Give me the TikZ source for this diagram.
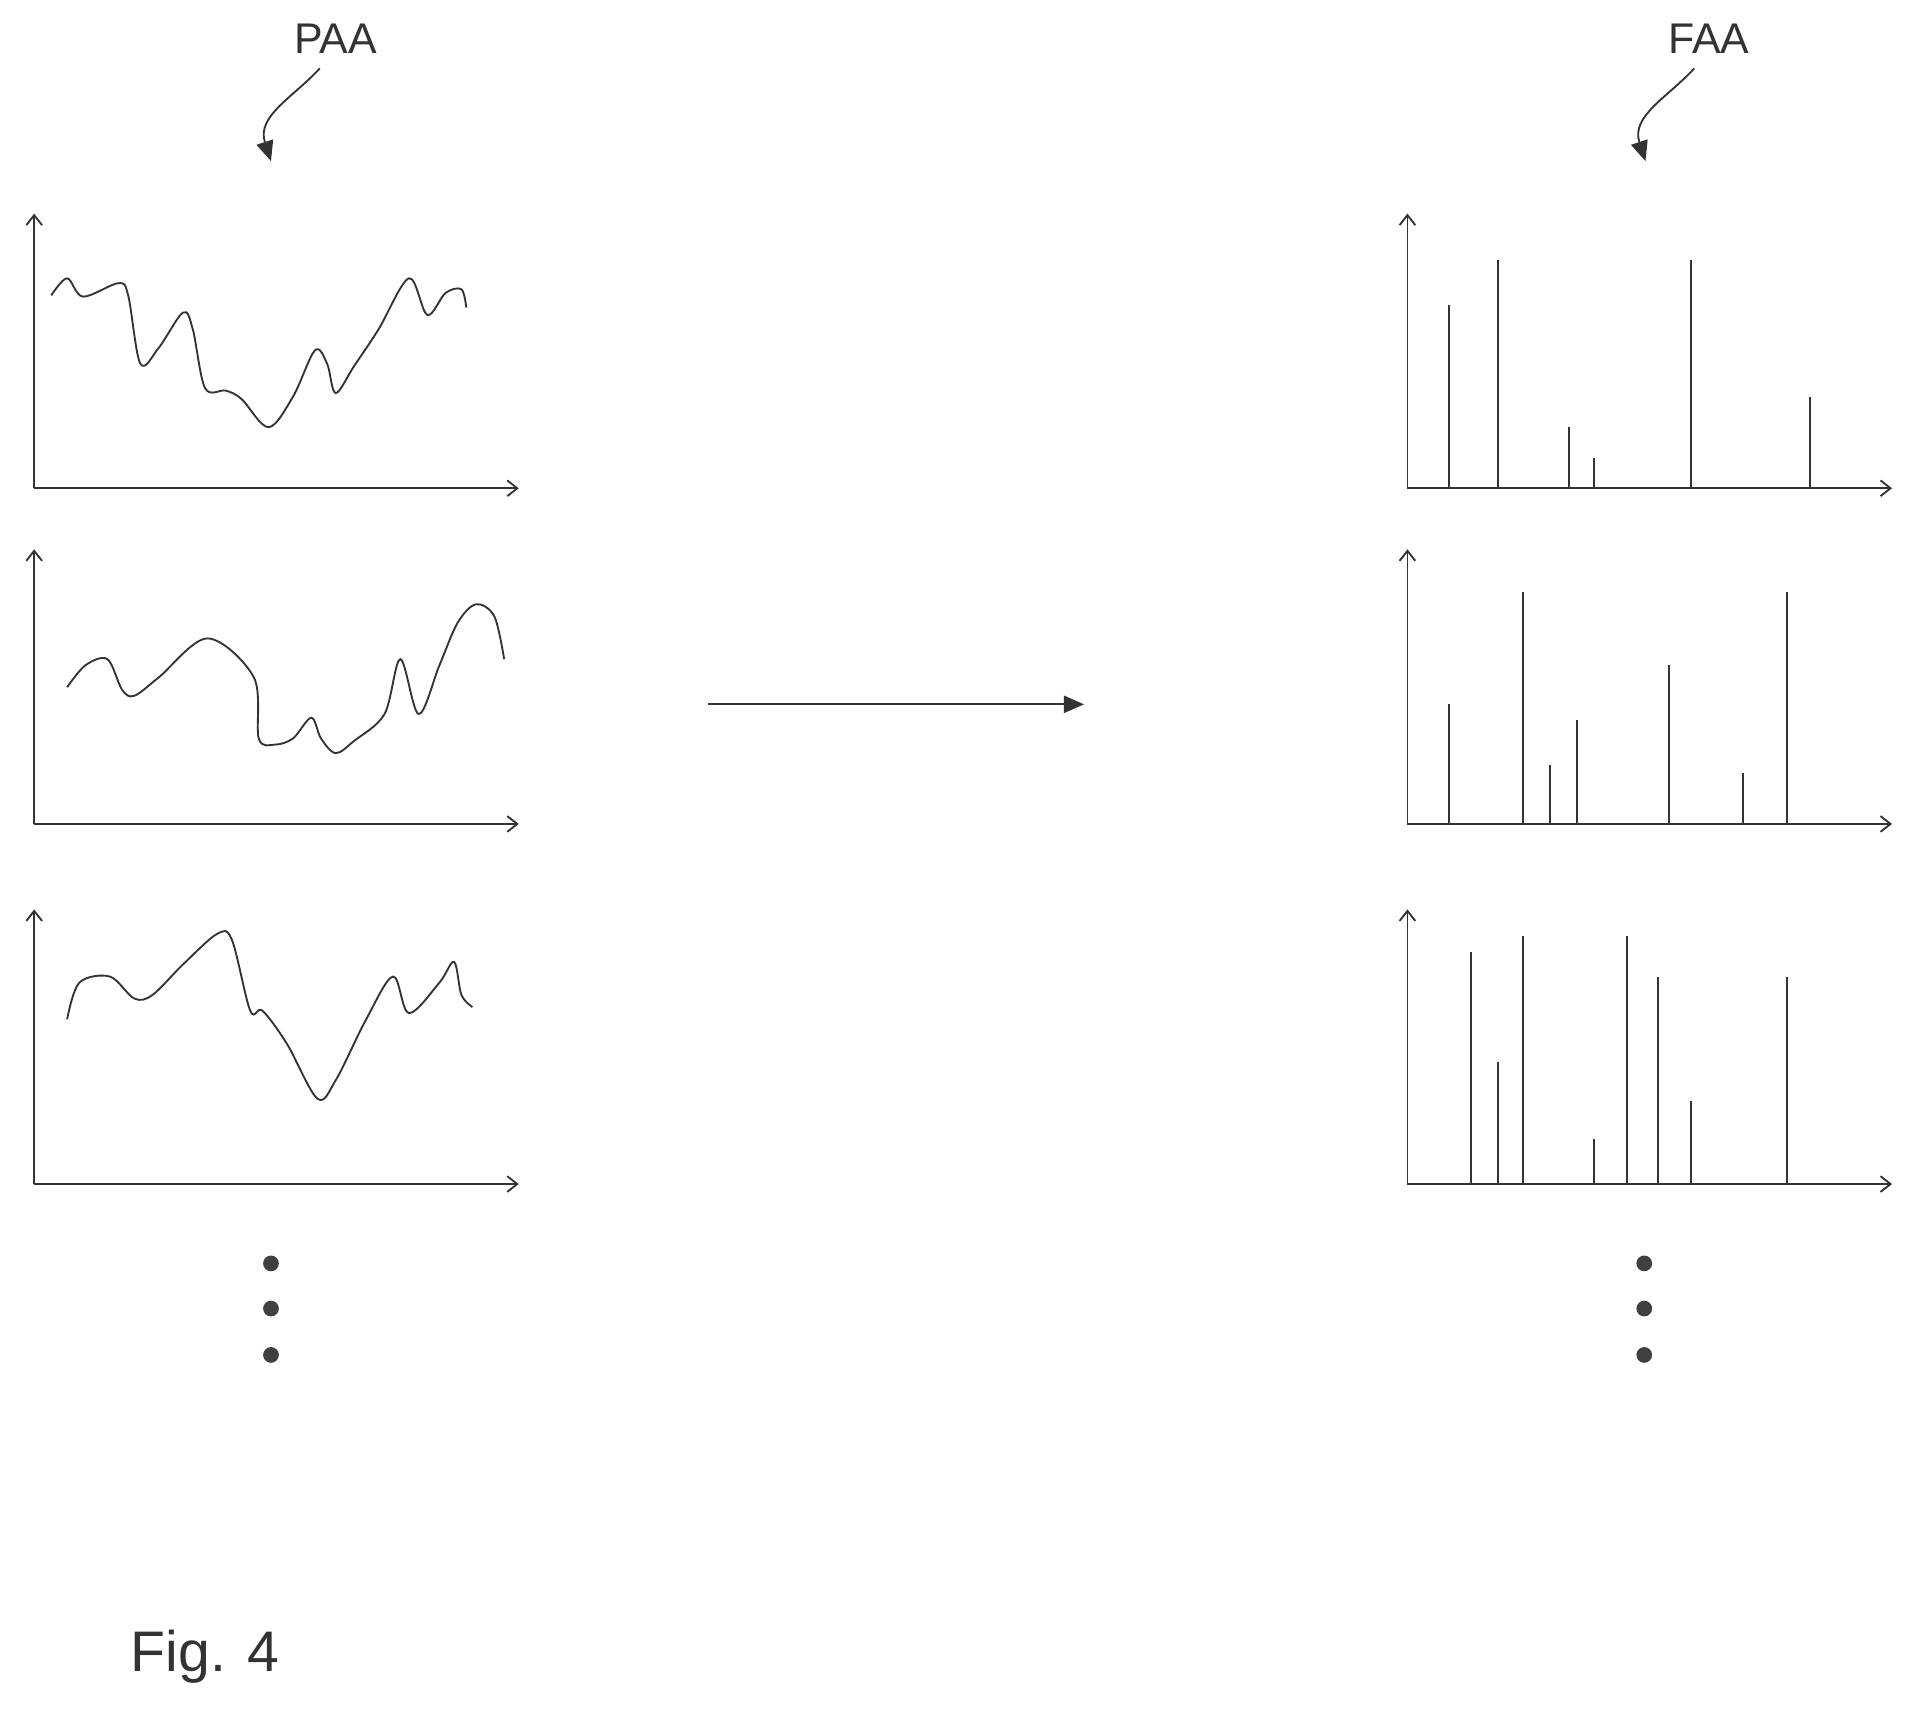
\documentclass[tikz,border=0pt]{standalone}
\usepackage{fontspec}
\setmainfont{Liberation Sans}
\usetikzlibrary{arrows.meta}
\begin{document}
\begin{tikzpicture}[x=0.03cm,y=-0.03cm,
  ln/.style={draw=black!80,line width=1.3pt},
  axis/.style={ln,-{Straight Barb[length=7pt,width=11pt]}},
  bar/.style={ln},
  crv/.style={ln,smooth,tension=0.55},
  lbl/.style={font=\fontsize{30}{36}\selectfont,text=black!80},
  fat/.style={ln,-{Triangle[length=14pt,width=12pt]}},
  dot/.style={circle,fill=black!75,inner sep=0pt,minimum size=11pt}]
\useasboundingbox (0,0) rectangle (1568,1404);
% axes
\foreach \o/\t in {400/175,675/450,970/745}{
  \coordinate (lo) at (28,\o);
  \draw[axis] (lo) -- (28,\t);
  \draw[axis] (lo) -- (425,\o);
  \coordinate (ro) at (1153,\o);
  \draw[axis] (ro) -- (1153,\t);
  \draw[axis] (ro) -- (1550,\o);
}
% curves
\draw[crv] plot coordinates {(42,242)(55,228)(68,243)(97,232)(105,242)(115,298)(130,285)(150,256)(158,270)(168,318)(185,320)(198,327)(220,350)(240,325)(258,287)(268,298)(275,322)(290,300)(310,270)(335,228)(350,258)(365,240)(378,237)(382,252)};
\draw[crv] plot coordinates {(55,563)(70,545)(88,540)(100,565)(110,570)(130,555)(170,523)(208,555)(212,605)(225,610)(240,605)(255,588)(263,605)(275,617)(290,607)(315,585)(328,540)(343,585)(360,545)(375,510)(390,495)(405,505)(413,540)};
\draw[crv] plot coordinates {(55,835)(65,805)(90,800)(110,818)(125,815)(150,790)(178,765)(190,770)(205,828)(215,828)(235,855)(260,900)(275,885)(300,835)(322,800)(335,830)(360,805)(372,788)(378,815)(387,825)};
% bars
\foreach \x/\t in {1187/250,1227/213,1285/350,1306/375,1385/213,1483/325} \draw[bar] (\x,400) -- (\x,\t);
\foreach \x/\t in {1187/577,1248/485,1270/627,1292/590,1367/545,1428/633,1464/485} \draw[bar] (\x,675) -- (\x,\t);
\foreach \x/\t in {1205/780,1227/870,1248/767,1306/933,1333/767,1358/800,1385/902,1464/800} \draw[bar] (\x,970) -- (\x,\t);
% labels
\node[lbl] (paa) at (275,32) {PAA};
\node[lbl] (faa) at (1400,32) {FAA};
\coordinate (pa) at (222,132);
\coordinate (fa) at (1348,132);
\draw[fat] (262,56) .. controls (240,80) and (210,95) .. (pa);
\draw[fat] (1388,56) .. controls (1366,80) and (1336,95) .. (fa);
\coordinate (ma) at (580,577); \coordinate (mb) at (888,577);
\draw[fat] (ma) -- (mb);
\foreach \y in {1035,1072,1110}{
  \node[dot] at (222,\y) {};
  \node[dot] at (1347,\y) {};
}
\node[font=\fontsize{40}{48}\selectfont,text=black!80] (fig) at (168,1357) {Fig. 4};
\end{tikzpicture}
\end{document}
